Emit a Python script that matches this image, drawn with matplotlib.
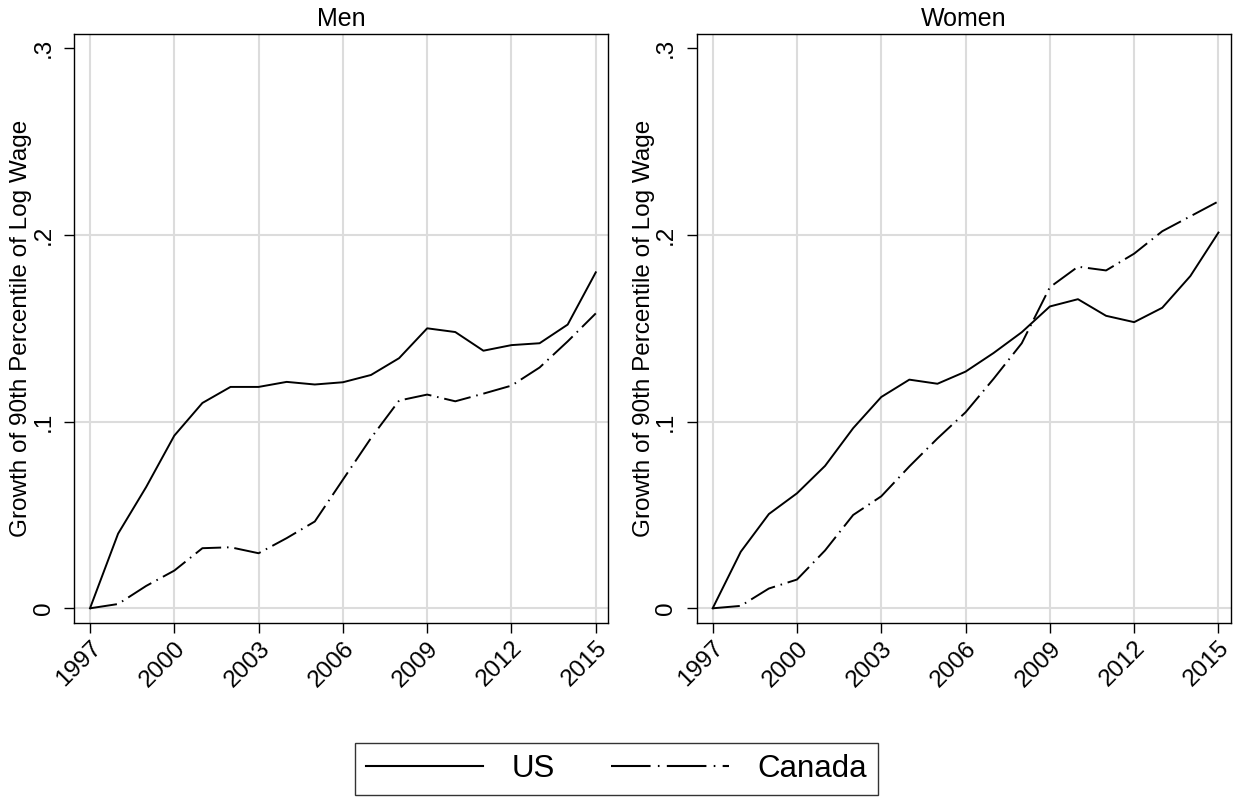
import numpy as np
import matplotlib.pyplot as plt
from matplotlib.lines import Line2D

plt.rcParams['font.family'] = ['Liberation Sans', 'DejaVu Sans']

years = list(range(1997, 2016))
xticks = [1997, 2000, 2003, 2006, 2009, 2012, 2015]
yticks = [0, 0.1, 0.2, 0.3]
ytick_labels = ['0', '.1', '.2', '.3']

us_men = [0, 0.040, 0.065, 0.0925, 0.110, 0.1186, 0.1186, 0.1213, 0.1199, 0.1211,
          0.125, 0.134, 0.150, 0.148, 0.138, 0.141, 0.142, 0.152, 0.180]
ca_men = [0, 0.0023, 0.012, 0.0202, 0.0322, 0.0327, 0.0295, 0.0376, 0.0465, 0.0689,
          0.0912, 0.1113, 0.1145, 0.1109, 0.115, 0.1193, 0.129, 0.143, 0.158]
us_women = [0, 0.0303, 0.0505, 0.0616, 0.0763, 0.0965, 0.1132, 0.1225, 0.1203, 0.1268,
            0.1368, 0.1479, 0.1617, 0.1656, 0.1567, 0.1533, 0.161, 0.178, 0.2013]
ca_women = [0, 0.0013, 0.0106, 0.0154, 0.031, 0.050, 0.060, 0.076, 0.091, 0.105,
            0.123, 0.142, 0.172, 0.183, 0.181, 0.190, 0.202, 0.210, 0.218]

panels = [('Men', us_men, ca_men), ('Women', us_women, ca_women)]

fig = plt.figure(figsize=(12.33, 7.98), dpi=100)
ax_pos = [[0.060, 0.219, 0.433, 0.738], [0.565, 0.219, 0.433, 0.738]]
dash = (14, 3, 0.8, 3)

for pos, (title, us, ca) in zip(ax_pos, panels):
    ax = fig.add_axes(pos)
    for x in xticks:
        ax.axvline(x, color='#dcdcdc', lw=1.5, zorder=0)
    for y in yticks[:-1]:
        ax.axhline(y, color='#dcdcdc', lw=1.5, zorder=0)
    ax.plot(years, us, color='black', lw=1.4)
    ax.plot(years, ca, color='black', lw=1.4, dashes=dash)
    ax.set_xlim(1996.43, 2015.43)
    ax.set_ylim(-0.008, 0.3075)
    ax.set_xticks(xticks)
    ax.set_xticklabels([str(x) for x in xticks], rotation=45, ha='right',
                       rotation_mode='anchor', fontsize=17.5)
    ax.set_yticks(yticks)
    ax.set_yticklabels(ytick_labels, rotation=90, va='center', fontsize=17.5)
    ax.tick_params(axis='y', length=7, width=1, color='black', pad=7)
    ax.tick_params(axis='x', length=7, width=1, color='black', pad=3)
    ax.set_ylabel('Growth of 90th Percentile of Log Wage', fontsize=17.5)
    ax.yaxis.set_label_coords(-0.078, 0.5)
    ax.set_title(title, fontsize=18, pad=6)
    for s in ax.spines.values():
        s.set_linewidth(1)

handles = [Line2D([], [], color='black', lw=1.5),
           Line2D([], [], color='black', lw=1.5, dashes=(19, 3.5, 0.8, 3.5))]
leg = fig.legend(handles, ['US', 'Canada'], loc='center', bbox_to_anchor=(0.5, 0.036),
                 ncol=2, fontsize=22.5, frameon=True, fancybox=False, edgecolor='black',
                 handlelength=3.75, columnspacing=1.8, handletextpad=0.93,
                 borderpad=0.35, borderaxespad=0)
leg.get_frame().set_linewidth(1)

fig.savefig('out.png', dpi=100)
